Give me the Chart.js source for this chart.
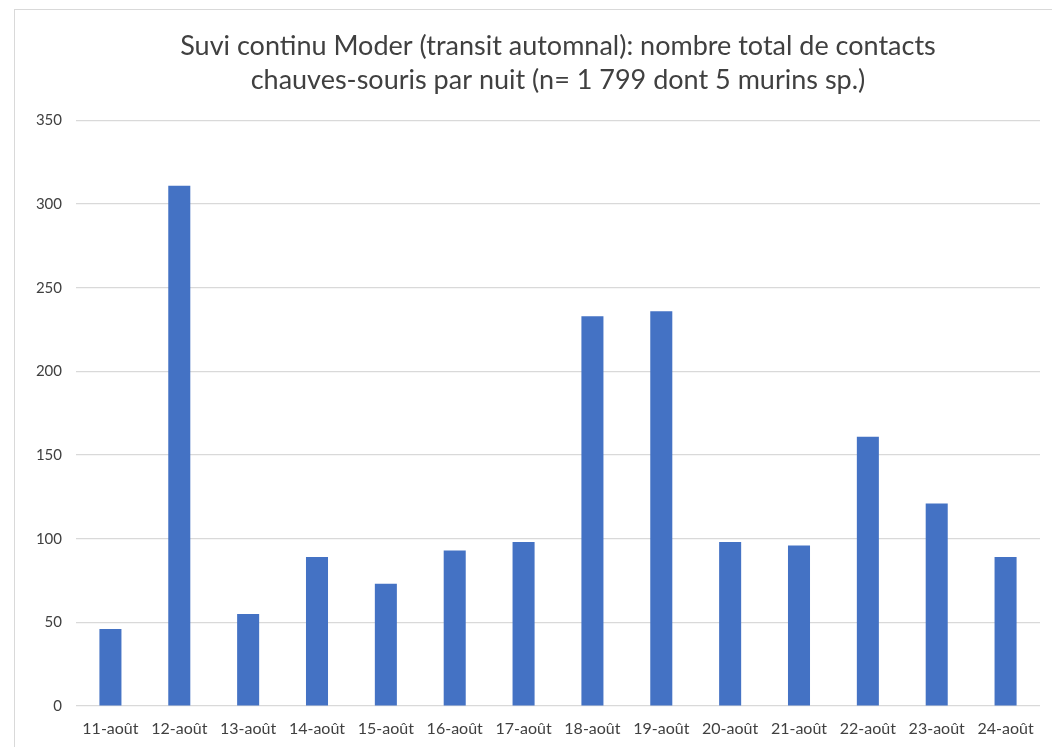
<!DOCTYPE html>
<html>
<head>
<meta charset="utf-8">
<script src="https://cdn.jsdelivr.net/npm/chart.js@4"></script>
<style>
  body { margin: 0; background: #fff; }
  #wrap { position: relative; width: 1052px; height: 747px; }
  #frame { position: absolute; left: 14px; top: 9px; width: 1100px; height: 800px;
           border: 1px solid #d9d9d9; pointer-events: none; }
  canvas { position: absolute; left: 0; top: 0; }
</style>
</head>
<body>
<div id="wrap">
  <div id="frame"></div>
  <canvas id="chart" width="1052" height="747"></canvas>
</div>
<script>
const nights = ['11-août', '12-août', '13-août', '14-août', '15-août', '16-août', '17-août',
                '18-août', '19-août', '20-août', '21-août', '22-août', '23-août', '24-août'];
const contacts = [46, 311, 55, 89, 73, 93, 98, 233, 236, 98, 96, 161, 121, 89];
const titleLines = ['Suvi continu Moder (transit automnal): nombre total de contacts',
                    'chauves-souris par nuit (n= 1 799 dont 5 murins sp.)'];

const ctx = document.getElementById('chart');
new Chart(ctx, {
    type: 'bar',
    data: {
        labels: nights,
        datasets: [{ data: contacts, backgroundColor: '#4472C4', barPercentage: 0.64, categoryPercentage: 0.5 }]
    },
    options: {
        responsive: false,
        animation: false,
        layout: { padding: { left: 0, right: 12, top: 0, bottom: 0 } },
        plugins: {
            legend: { display: false },
            tooltip: { enabled: false },
            title: {
                display: true,
                text: titleLines,
                fullSize: false,
                color: '#404040',
                font: { family: 'Lato, "Open Sans", sans-serif', size: 27, weight: 'normal', lineHeight: 1.23 },
                padding: { top: 30, bottom: 24 }
            }
        },
        scales: {
            x: {
                grid: { display: false },
                border: { display: false },
                ticks: { color: '#404040', font: { family: 'Lato, sans-serif', size: 16 }, maxRotation: 0, autoSkip: false, padding: 5 },
                afterFit: s => { s.height = 41; }
            },
            y: {
                min: 0,
                max: 350,
                ticks: { stepSize: 50, color: '#404040', font: { family: 'Lato, sans-serif', size: 15 }, padding: 14 },
                grid: { color: '#d9d9d9', lineWidth: 1.2, drawTicks: false },
                border: { display: false },
                afterFit: s => { s.width = 76; }
            }
        }
    }
});
</script>
</body>
</html>
